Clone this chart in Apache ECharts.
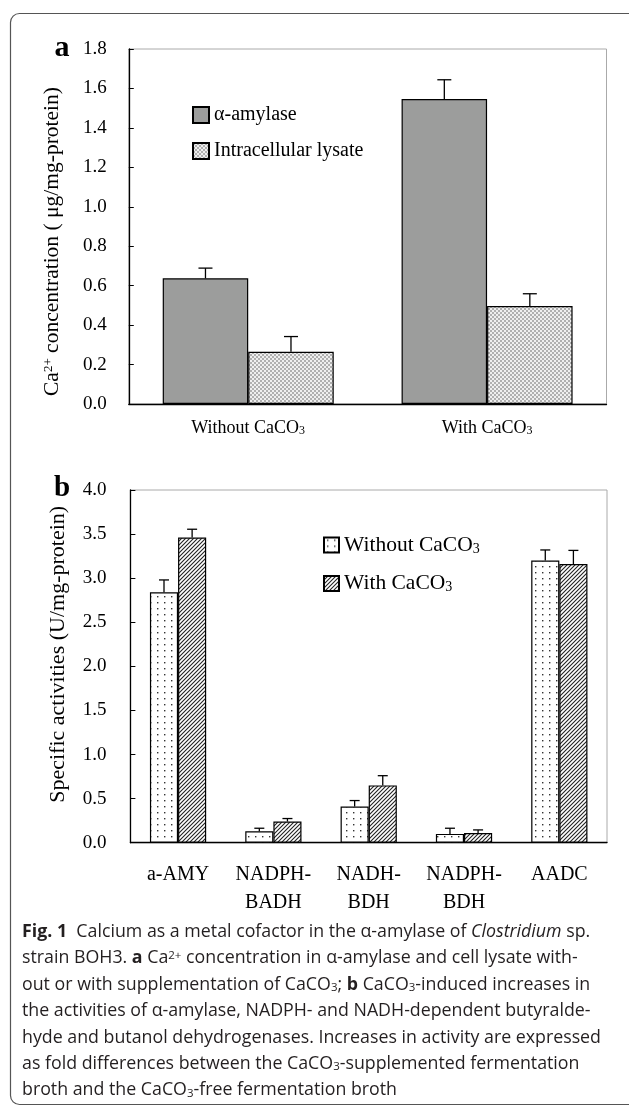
<!DOCTYPE html>
<html><head><meta charset="utf-8">
<script src="https://cdn.jsdelivr.net/npm/echarts@6/dist/echarts.min.js"></script>
<style>html,body{margin:0;padding:0;background:#fff}#c{width:629px;height:1116px}</style>
</head><body><div id="c"></div>
<script>
// ---- Panel a data ----
const catsA = ['Without CaCO3', 'With CaCO3'];
const amylase = [0.637, 1.546];
const amylaseSd = [0.052, 0.098];
const lysate = [0.265, 0.497];
const lysateSd = [0.077, 0.062];
const ticksA = { min: 0, max: 1.8, step: 0.2 };

// ---- Panel b data ----
const catsB = ['a-AMY', 'NADPH-\nBADH', 'NADH-\nBDH', 'NADPH-\nBDH', 'AADC'];
const without = [2.84, 0.13, 0.41, 0.10, 3.20];
const withoutSd = [0.14, 0.034, 0.068, 0.064, 0.12];
const withCa = [3.46, 0.24, 0.65, 0.11, 3.16];
const withCaSd = [0.095, 0.034, 0.11, 0.035, 0.155];
const ticksB = { min: 0, max: 4.0, step: 0.5 };

const captionLines = [
  '{b|Fig. 1}  Calcium as a metal cofactor in the α-amylase of {i|Clostridium} sp.',
  'strain BOH3. {b|a} Ca{sup|2+} concentration in α-amylase and cell lysate with-',
  'out or with supplementation of CaCO{sub|3}; {b|b} CaCO{sub|3}-induced increases in',
  'the activities of α-amylase, NADPH- and NADH-dependent butyralde-',
  'hyde and butanol dehydrogenases. Increases in activity are expressed',
  'as fold differences between the CaCO{sub|3}-supplemented fermentation',
  'broth and the CaCO{sub|3}-free fermentation broth'
];

// ---- patterns ----
function mk(w, h, draw) { const c = document.createElement('canvas'); c.width = w; c.height = h; const g = c.getContext('2d'); draw(g); return c; }
const checker = mk(4, 4, g => { g.fillStyle = '#efefef'; g.fillRect(0,0,4,4); g.fillStyle = '#b0b0b0'; g.fillRect(0,0,2,2); g.fillRect(2,2,2,2); });
const dots = mk(7, 6, g => { g.fillStyle = '#fff'; g.fillRect(0,0,7,6); g.fillStyle = '#333'; g.fillRect(3,2,1.4,1.4); });
const hatch = mk(4, 4, g => { g.fillStyle = '#fff'; g.fillRect(0,0,4,4); g.strokeStyle = '#222'; g.lineWidth = 1.1;
  g.beginPath(); g.moveTo(-1,5); g.lineTo(5,-1); g.moveTo(-1,1); g.lineTo(1,-1); g.moveTo(3,5); g.lineTo(5,3); g.stroke(); });

const serif = 'Liberation Serif, Times New Roman, serif';
const subRich = {
  s: { fontSize: 12, lineHeight: 12, verticalAlign: 'bottom', fontFamily: serif, color: '#000' }
};
const fmtSub = t => t.replace(/CO3/g, 'CO{s|3}');

const gapA = 0.284, gapB = 0.41;
function errItem(sign, gap, cap) {
  return function (params, api) {
    const i = api.value(0), v = api.value(1), sd = api.value(2);
    const base = api.coord([i, v]);
    const top = api.coord([i, v + sd]);
    const band = api.size([1, 0])[0];
    const bw = band * (1 - gap) / 2;
    const x = base[0] + sign * bw / 2;
    const st = { stroke: '#000', lineWidth: 1.3 };
    return { type: 'group', children: [
      { type: 'line', shape: { x1: x, y1: base[1], x2: x, y2: top[1] }, style: st },
      { type: 'line', shape: { x1: x - cap / 2, y1: top[1], x2: x + cap / 2, y2: top[1] }, style: st }
    ]};
  };
}
const triples = (vals, sds) => vals.map((v, i) => [i, v, sds[i]]);

const yAxisBase = (gi, t, margin) => ({
  gridIndex: gi, type: 'value', min: t.min, max: t.max, interval: t.step,
  axisLine: { show: true, lineStyle: { color: '#000', width: 1.3 } },
  axisTick: { show: true, inside: true, length: 5, lineStyle: { color: '#000' } },
  splitLine: { show: false },
  axisLabel: { formatter: v => v.toFixed(1), fontFamily: serif, fontSize: 19, color: '#000', margin: margin },
  nameLocation: 'middle', nameRotate: 90
});

const chart = echarts.init(document.getElementById('c'), null, { renderer: 'canvas' });
const barStyle = c => ({ color: c, borderColor: '#000', borderWidth: 1.2 });

chart.setOption({
  animation: false,
  backgroundColor: '#fff',
  grid: [
    { left: 128.8, right: 22.5, top: 49, height: 355, show: true, borderColor: '#aaa', borderWidth: 1 },
    { left: 130.4, right: 22, top: 490, height: 352.7, show: true, borderColor: '#aaa', borderWidth: 1 }
  ],
  xAxis: [
    { gridIndex: 0, type: 'category', data: catsA,
      axisLine: { lineStyle: { color: '#000', width: 1.3 } }, axisTick: { show: false },
      axisLabel: { formatter: fmtSub, fontFamily: serif, fontSize: 18, color: '#000', margin: 15, rich: subRich } },
    { gridIndex: 1, type: 'category', data: catsB,
      axisLine: { lineStyle: { color: '#000', width: 1.3 } }, axisTick: { show: false },
      axisLabel: { fontFamily: serif, fontSize: 20, lineHeight: 28, color: '#000', margin: 18, interval: 0 } }
  ],
  yAxis: [
    Object.assign(yAxisBase(0, ticksA, 22), {
      name: 'Ca{sup|2+} concentration ( μg/mg-protein)', nameGap: 65,
      nameTextStyle: { fontFamily: serif, fontSize: 21.5, color: '#000', padding: [0, 30, 0, 0],
        rich: { sup: { fontSize: 13, lineHeight: 13, verticalAlign: 'top', fontFamily: serif, color: '#000' } } }
    }),
    Object.assign(yAxisBase(1, ticksB, 24), {
      name: 'Specific activities (U/mg-protein)', nameGap: 61,
      nameTextStyle: { fontFamily: serif, fontSize: 22, color: '#000', padding: [0, 0, 0, 24] }
    })
  ],
  legend: [
    { left: 187, top: 100, orient: 'vertical', itemWidth: 16, itemHeight: 16, itemGap: 16, icon: 'rect',
      textStyle: { fontFamily: serif, fontSize: 20, color: '#000' },
      data: ['α-amylase', 'Intracellular lysate'] },
    { left: 318, top: 529, orient: 'vertical', itemWidth: 15, itemHeight: 15, itemGap: 16.5, icon: 'rect',
      formatter: fmtSub,
      textStyle: { fontFamily: serif, fontSize: 21.5, color: '#000', rich: { s: { fontSize: 14, lineHeight: 14, verticalAlign: 'bottom', fontFamily: serif, color: '#000' } } },
      data: ['Without CaCO3', 'With CaCO3'] }
  ],
  series: [
    { name: 'α-amylase', type: 'bar', xAxisIndex: 0, yAxisIndex: 0, data: amylase, barGap: '0%', barCategoryGap: (gapA * 100) + '%', itemStyle: barStyle('#9c9d9c') },
    { name: 'Intracellular lysate', type: 'bar', xAxisIndex: 0, yAxisIndex: 0, data: lysate, barGap: '0%', barCategoryGap: (gapA * 100) + '%', itemStyle: barStyle({ image: checker, repeat: 'repeat' }) },
    { type: 'custom', xAxisIndex: 0, yAxisIndex: 0, renderItem: errItem(-1, gapA, 14), data: triples(amylase, amylaseSd), encode: { x: 0, y: 1 }, z: 5, silent: true },
    { type: 'custom', xAxisIndex: 0, yAxisIndex: 0, renderItem: errItem(1, gapA, 14), data: triples(lysate, lysateSd), encode: { x: 0, y: 1 }, z: 5, silent: true },
    { name: 'Without CaCO3', type: 'bar', xAxisIndex: 1, yAxisIndex: 1, data: without, barGap: '0%', barCategoryGap: (gapB * 100) + '%', itemStyle: barStyle({ image: dots, repeat: 'repeat' }) },
    { name: 'With CaCO3', type: 'bar', xAxisIndex: 1, yAxisIndex: 1, data: withCa, barGap: '0%', barCategoryGap: (gapB * 100) + '%', itemStyle: barStyle({ image: hatch, repeat: 'repeat' }) },
    { type: 'custom', xAxisIndex: 1, yAxisIndex: 1, renderItem: errItem(-1, gapB, 10), data: triples(without, withoutSd), encode: { x: 0, y: 1 }, z: 5, silent: true },
    { type: 'custom', xAxisIndex: 1, yAxisIndex: 1, renderItem: errItem(1, gapB, 10), data: triples(withCa, withCaSd), encode: { x: 0, y: 1 }, z: 5, silent: true }
  ],
  graphic: [
    { type: 'rect', shape: { x: 10.5, y: 13.5, width: 640, height: 1091, r: 9 }, style: { fill: 'none', stroke: '#555', lineWidth: 1.2 }, silent: true, z: -1 },
    { type: 'text', x: 62, y: 48, style: { text: 'a', font: 'bold 30px ' + serif, fill: '#000', align: 'center', verticalAlign: 'middle' } },
    { type: 'text', x: 62, y: 489, style: { text: 'b', font: 'bold 29px ' + serif, fill: '#000', align: 'center', verticalAlign: 'middle' } }
  ].concat(captionLines.map((t, k) => ({
    type: 'text', x: 22, y: 932 + 26.4 * k,
    style: { text: t, fontFamily: 'Open Sans', fontSize: 17.8, fill: '#231f20', align: 'left', verticalAlign: 'middle',
      rich: {
        b: { fontFamily: 'Open Sans', fontSize: 17.8, fontWeight: 'bold', fill: '#231f20' },
        i: { fontFamily: 'Open Sans', fontSize: 17.8, fontStyle: 'italic', fill: '#231f20' },
        sup: { fontFamily: 'Open Sans', fontSize: 11.5, lineHeight: 11.5, verticalAlign: 'top', fill: '#231f20' },
        sub: { fontFamily: 'Open Sans', fontSize: 11.5, lineHeight: 11.5, verticalAlign: 'bottom', fill: '#231f20' }
      } }
  })))
});
</script></body></html>
